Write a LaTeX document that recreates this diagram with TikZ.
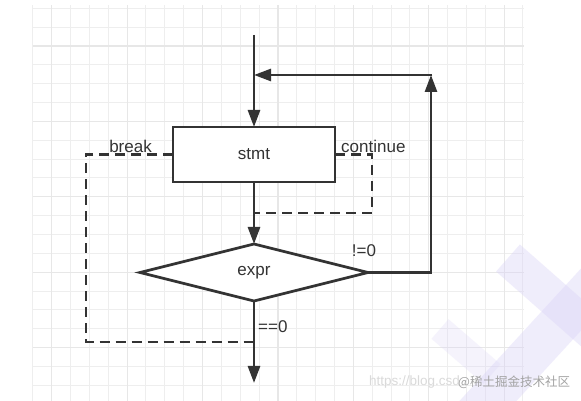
\documentclass[tikz,border=0pt]{standalone}
\usepackage{fontspec}
\setmainfont{Liberation Sans}
\newfontfamily\cjkfont{Noto Sans CJK SC}
\usetikzlibrary{arrows.meta,positioning,shapes.geometric}
\definecolor{ink}{HTML}{333333}
\definecolor{gridminor}{HTML}{EEEEEE}
\definecolor{gridmajor}{HTML}{E7E7E7}
\definecolor{wmtext}{HTML}{A3A3A3}
\definecolor{wmfaint}{HTML}{DADADA}
\definecolor{wmviolet}{HTML}{D9D2F7}
\tikzset{
  >={Triangle[length=17pt,width=12pt]},
  every node/.style={font=\fontsize{17}{20}\selectfont,text=ink},
  gridline/.style={draw=gridminor,line width=1pt},
  gridbold/.style={draw=gridmajor,line width=1.2pt},
  stmtbox/.style={draw=ink,line width=2.7pt,fill=white,minimum width=162pt,minimum height=55pt,outer sep=0pt},
  exprdiamond/.style={diamond,draw=ink,line width=2.7pt,fill=white,minimum width=228pt,minimum height=57pt,inner sep=0pt,outer sep=0pt},
  arrow/.style={->,line width=2.7pt,draw=ink},
  jump/.style={line width=2.6pt,draw=ink,dash pattern=on 10pt off 6pt},
  lbl/.style={inner sep=1pt},
  wmark/.style={font=\fontsize{13.5}{15}\selectfont,inner sep=0pt},
  wmband/.style={draw=wmviolet,opacity=0.4},
}

\begin{document}
\begin{tikzpicture}[x=1pt,y=1pt]
\useasboundingbox (0,0) rectangle (581,401);
\fill[white] (0,0) rectangle (581,401);

% grid paper
\foreach \i in {0,...,26}{\draw[gridline] ({32.85+\i*18.85},0) -- ({32.85+\i*18.85},396);}
\foreach \k in {0,...,20}{\draw[gridline] (33,{392.7-\k*18.85}) -- (524,{392.7-\k*18.85});}
\foreach \i in {1,5,...,25}{\draw[gridbold] ({32.85+\i*18.85},0) -- ({32.85+\i*18.85},396);}
\foreach \k in {2,6,...,18}{\draw[gridbold] (33,{392.7-\k*18.85}) -- (524,{392.7-\k*18.85});}

% watermark cross
\begin{scope}
\clip (0,0) rectangle (581,401);
\draw[wmband,line width=42pt] (610,133) -- (465,-25);
\draw[wmband,line width=36pt] (508,143) -- (600,62);
\draw[wmband,line width=26pt,opacity=0.25] (440,72) -- (492,27);
\end{scope}

% loop body and test
\node[stmtbox] (stmt) at (254,246.5) {stmt};
\node[exprdiamond,below=62pt of stmt] (expr) {expr};
\coordinate[above=92pt of stmt] (start);
\coordinate[above=52pt of stmt] (join);
\coordinate[right=177pt of join] (turn);
\coordinate[below=82pt of expr] (exit);

% break / continue
\coordinate[below=41pt of expr] (brkend);
\coordinate[left=168pt of brkend] (brkcorner);
\coordinate[below=31pt of stmt] (cntend);
\coordinate[right=118pt of cntend] (cntcorner);
\draw[jump] (stmt.west) -| (brkcorner) -- (brkend);
\draw[jump] (stmt.east) -| (cntcorner) -- (cntend);

\draw[arrow] (start) -- (stmt);
\draw[arrow] (stmt) -- (expr);
\draw[arrow] (expr) -- (exit);
\draw[arrow] (expr.east) -| (turn);
\draw[arrow,shorten <=-1.35pt] (turn) -- (join);

\node[lbl,above left=1pt and 20pt of stmt.west] (brklbl) {break};
\node[lbl,above right=1pt and 5pt of stmt.east] (cntlbl) {continue};
\node[lbl,above=15pt of expr.east,xshift=-4pt] (nelbl) {!=0};
\node[lbl,below right=18pt and 3pt of expr.south] (eqlbl) {==0};

% watermark text
\node[wmark,text=wmfaint,anchor=east] (wmurl) at (460,19) {https://blog.csd};
\node[wmark,text=wmtext,anchor=west,font=\fontsize{12.5}{15}\selectfont] (wmsite) at (458,19) {\cjkfont @稀土掘金技术社区};

\end{tikzpicture}
\end{document}
